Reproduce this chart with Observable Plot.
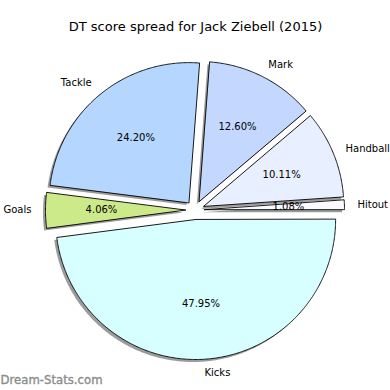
<!DOCTYPE html>
<html>
<head>
<meta charset="utf-8">
<script src="https://cdn.jsdelivr.net/npm/d3@7"></script>
<script src="https://cdn.jsdelivr.net/npm/@observablehq/plot@0.6"></script>
<style>
  html, body { margin: 0; padding: 0; background: #fff; }
  svg { font-family: "DejaVu Sans", sans-serif; }
</style>
</head>
<body>
<div id="chart"></div>
<script>
const title = "DT score spread for Jack Ziebell (2015)";
const watermark = "Dream-Stats.com";
const categories = ["Hitout", "Handball", "Mark", "Tackle", "Goals", "Kicks"];
const values = [1.08, 10.11, 12.60, 24.20, 4.06, 47.95];
const pctLabels = ["1.08%", "10.11%", "12.60%", "24.20%", "4.06%", "47.95%"];
const colors = ["#f8faff", "#e8efff", "#c4d8ff", "#b4d6ff", "#cdea8a", "#d8ffff"];

const explode = 0.068;
const total = d3.sum(values);

// build wedge polygons (unit radius, angles counter-clockwise from +x)
const wedgePts = [];
const labelData = [];
let acc = 0;
categories.forEach((cat, i) => {
  const a0 = acc / total * 2 * Math.PI;
  acc += values[i];
  const a1 = acc / total * 2 * Math.PI;
  const am = (a0 + a1) / 2;
  const cx = explode * Math.cos(am), cy = explode * Math.sin(am);
  wedgePts.push({cat, color: colors[i], x: cx, y: cy});
  const n = Math.max(4, Math.ceil((a1 - a0) / (Math.PI / 360)));
  for (let k = 0; k <= n; ++k) {
    const a = a0 + (a1 - a0) * k / n;
    wedgePts.push({cat, color: colors[i], x: cx + Math.cos(a), y: cy + Math.sin(a)});
  }
  labelData.push({
    cat, pct: pctLabels[i],
    lx: cx + 1.1 * Math.cos(am), ly: cy + 1.1 * Math.sin(am),
    px: cx + 0.6 * Math.cos(am), py: cy + 0.6 * Math.sin(am),
    left: Math.cos(am) > 0
  });
});

const R = 140, CX = 194.5, CY = 209.5, W = 390, H = 390;

const chart = Plot.plot({
  width: W, height: H,
  margin: 0,
  x: {domain: [-CX / R, (W - CX) / R], range: [0, W], axis: null},
  y: {domain: [(CY - H) / R, CY / R], range: [H, 0], axis: null},
  color: {type: "identity"},
  style: {fontFamily: "DejaVu Sans, sans-serif", background: "#fff"},
  marks: [
    Plot.line(wedgePts, {x: "x", y: "y", z: "cat", curve: "linear-closed",
      fill: "#4a4a4a", fillOpacity: 0.55, stroke: "none", dx: -2.5, dy: 2.5}),
    Plot.line(wedgePts, {x: "x", y: "y", z: "cat", curve: "linear-closed",
      fill: "color", stroke: "#000", strokeWidth: 0.9}),
    Plot.text(labelData.filter(d => d.left), {x: "lx", y: "ly", text: "cat",
      textAnchor: "start", lineAnchor: "middle", fontSize: 10, fill: "#000", dx: -1}),
    Plot.text(labelData.filter(d => !d.left), {x: "lx", y: "ly", text: "cat",
      textAnchor: "end", lineAnchor: "middle", fontSize: 10, fill: "#000"}),
    Plot.text(labelData, {x: "px", y: "py", text: "pct",
      textAnchor: "middle", lineAnchor: "middle", fontSize: 10, fill: "#000"}),
    Plot.text([title], {frameAnchor: "top", dy: 26, text: d => d,
      lineAnchor: "middle", fontSize: 13, fill: "#000"}),
    Plot.text([watermark], {frameAnchor: "bottom-left", dy: -10, dx: 0, text: d => d,
      textAnchor: "start", lineAnchor: "middle", fontSize: 11.7, fill: "#8c8c8c",
      stroke: "#8c8c8c", strokeWidth: 0.35})
  ]
});
document.getElementById("chart").appendChild(chart);
</script>
</body>
</html>
